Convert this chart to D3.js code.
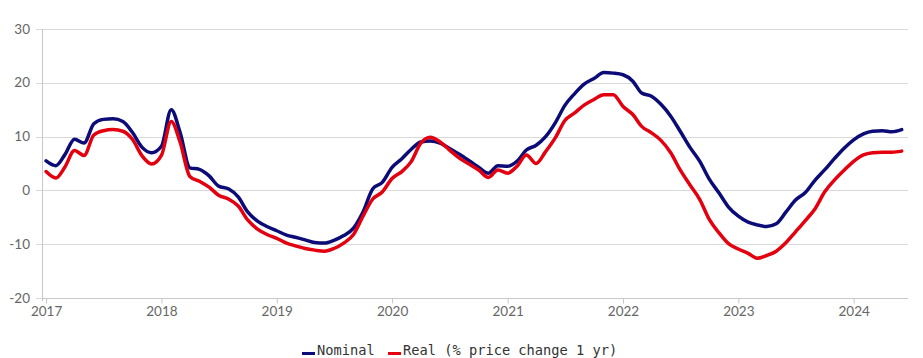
<!DOCTYPE html>
<html>
<head>
<meta charset="utf-8">
<script src="https://cdn.jsdelivr.net/npm/d3@7"></script>
<style>
  html, body { margin: 0; padding: 0; background: #fff; }
  svg { display: block; }
</style>
</head>
<body>
<svg id="chart" width="923" height="358"></svg>
<script>
const startMonth = "2017-01";
const yTicks = [-20, -10, 0, 10, 20, 30];
const xTickYears = [2017, 2018, 2019, 2020, 2021, 2022, 2023, 2024];
const seriesNames = ["Nominal", "Real (% price change 1 yr)"];
const nominal = [
  5.5, 4.6, 6.6, 9.5, 8.8, 12.4, 13.2, 13.3, 12.8, 10.8, 8.0, 7.0,
  8.2, 15.0, 10.8, 4.2, 3.9, 2.7, 0.8, 0.3, -1.2, -4.0, -5.7, -6.7,
  -7.5, -8.3, -8.7, -9.2, -9.7, -9.8, -9.3, -8.4, -7.0, -4.0, 0.3, 1.5,
  4.3, 5.9, 7.6, 9.0, 9.2, 8.8, 7.8, 6.7, 5.5, 4.3, 3.2, 4.6,
  4.5, 5.5, 7.5, 8.4, 10.0, 12.6, 15.8, 18.0, 19.8, 20.8, 21.9, 21.8,
  21.5, 20.3, 18.1, 17.5, 16.0, 13.8, 11.0, 8.0, 5.4, 2.1, -0.5, -3.1,
  -4.8, -5.9, -6.4, -6.7, -6.2, -4.0, -1.8, -0.4, 1.9, 3.8, 5.9, 7.8,
  9.4, 10.5, 11.0, 11.1, 10.9, 11.3
];
const real = [
  3.5, 2.3, 4.3, 7.4, 6.5, 10.3, 11.1, 11.3, 11.0, 9.5, 6.4, 4.9,
  6.5, 12.8, 9.0, 2.6, 1.7, 0.6, -0.9, -1.6, -2.9, -5.5, -7.2, -8.2,
  -8.9, -9.8, -10.3, -10.8, -11.1, -11.3, -10.8, -9.8, -8.2, -4.8, -1.6, -0.3,
  2.2, 3.5, 5.3, 8.8, 9.9, 9.0, 7.5, 6.0, 4.9, 3.8, 2.4, 3.8,
  3.2, 4.6, 6.6, 5.0, 7.2, 9.8, 13.0, 14.4, 15.9, 16.9, 17.8, 17.8,
  15.6, 14.1, 11.9, 10.7, 9.3, 7.0, 3.8, 1.0, -1.7, -5.4, -7.9, -9.9,
  -10.9, -11.7, -12.6, -12.1, -11.3, -9.7, -7.7, -5.6, -3.4, -0.3, 1.9, 3.7,
  5.4, 6.6, 7.0, 7.1, 7.1, 7.3
];
const colors = ["#0c0c78", "#e3000f"];

(function () {
const svg = d3.select("#chart");
const parse = d3.timeParse("%Y-%m");
const start = parse(startMonth);
const dates = nominal.map((_, i) => d3.timeMonth.offset(start, i));

const mLeft = 42, mRight = 908, mTop = 29, mBottom = 298;
const x = d3.scaleTime()
  .domain([new Date(2016, 11, 19), new Date(2024, 5, 21)])
  .range([mLeft, mRight]);
const y = d3.scaleLinear().domain([-20, 30]).range([mBottom, mTop]);

// gridlines
svg.append("g")
  .selectAll("line")
  .data(yTicks)
  .join("line")
  .attr("x1", mLeft - 6).attr("x2", mRight)
  .attr("y1", d => Math.round(y(d)) + 0.5).attr("y2", d => Math.round(y(d)) + 0.5)
  .attr("stroke", "#d9d9d9").attr("stroke-width", 1);

// y labels
svg.append("g")
  .selectAll("text")
  .data(yTicks)
  .join("text")
  .attr("x", 30).attr("y", d => y(d) + 4.5)
  .attr("text-anchor", "end")
  .attr("font-family", "Lato, 'Open Sans', sans-serif")
  .attr("font-size", 13.5)
  .attr("fill", "#666")
  .text(d => d);

// y axis line
svg.append("line")
  .attr("x1", mLeft + 0.5).attr("x2", mLeft + 0.5)
  .attr("y1", mTop).attr("y2", mBottom + 3)
  .attr("stroke", "#c8c8c8").attr("stroke-width", 1);

// x axis
const xAxis = d3.axisBottom(x)
  .tickValues(xTickYears.map(yv => new Date(yv, 0, 1)))
  .tickFormat(d3.timeFormat("%Y"))
  .tickSize(5).tickPadding(3);
const gx = svg.append("g")
  .attr("transform", `translate(0,${Math.round(y(-20)) + 0.5})`)
  .call(xAxis);
gx.select(".domain").attr("stroke", "#c8c8c8").attr("d", `M${mLeft},0H${mRight}`);
gx.selectAll(".tick line").attr("stroke", "#c8c8c8");
gx.selectAll(".tick text")
  .attr("font-family", "Lato, 'Open Sans', sans-serif")
  .attr("font-size", 13.5)
  .attr("fill", "#666");

// lines
const line = d3.line()
  .x((d, i) => x(dates[i]))
  .y(d => y(d))
  .curve(d3.curveMonotoneX);

[nominal, real].forEach((s, k) => {
  svg.append("path")
    .datum(s)
    .attr("fill", "none")
    .attr("stroke", colors[k])
    .attr("stroke-width", 3.5)
    .attr("stroke-linejoin", "round")
    .attr("stroke-linecap", "round")
    .attr("d", line);
});

// legend
const legend = svg.append("g").attr("font-family", "'DejaVu Sans Mono', 'Liberation Mono', monospace")
  .attr("font-size", 13.7).attr("fill", "#333");
const legendX = [302, 388];
seriesNames.forEach((name, k) => {
  legend.append("line")
    .attr("x1", legendX[k]).attr("x2", legendX[k] + 13)
    .attr("y1", 353.5).attr("y2", 353.5)
    .attr("stroke", colors[k]).attr("stroke-width", 3);
  legend.append("text")
    .attr("x", legendX[k] + 15).attr("y", 354.5)
    .text(name);
});
})();
</script>
</body>
</html>
